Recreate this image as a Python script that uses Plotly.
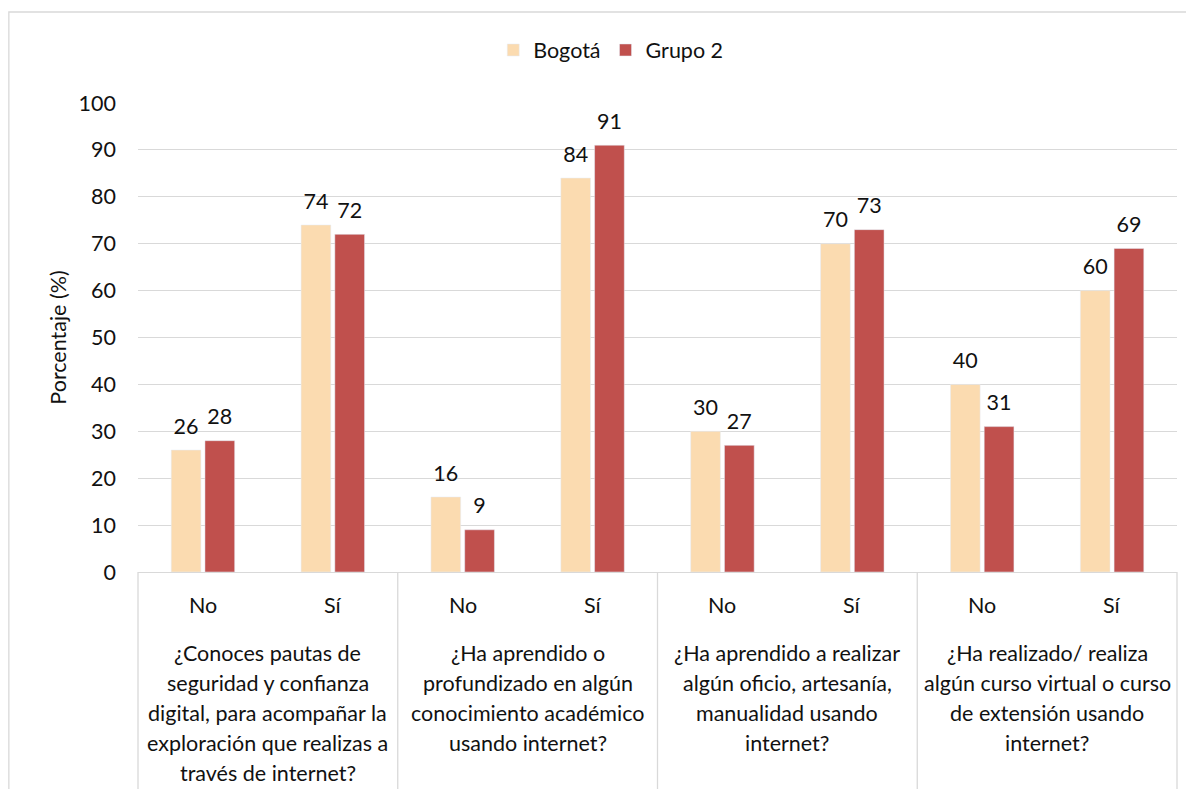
import plotly.graph_objects as go

questions = [
    ["¿Conoces pautas de", "seguridad y confianza", "digital, para acompañar la",
     "exploración que realizas a", "través de internet?"],
    ["¿Ha aprendido o", "profundizado en algún", "conocimiento académico", "usando internet?"],
    ["¿Ha aprendido a realizar", "algún oficio, artesanía,", "manualidad usando", "internet?"],
    ["¿Ha realizado/ realiza", "algún curso virtual o curso", "de extensión usando", "internet?"],
]
answers = ["No", "Sí"]
series_names = ["Bogotá", "Grupo 2"]
bogota = [26, 74, 16, 84, 30, 70, 40, 60]
grupo2 = [28, 72, 9, 91, 27, 73, 31, 69]
y_ticks = [0, 10, 20, 30, 40, 50, 60, 70, 80, 90, 100]
colors = ["#FBDBB0", "#C0504D"]

FONT = "Lato"
FS = 21.5
TXT = "#111111"
GRID = "#d9d9d9"

q_keys = [" ".join(q) for q in questions]
lvl1 = [k for k in q_keys for _ in answers]
lvl2 = [a for _ in q_keys for a in answers]

fig = go.Figure()
for name, vals, col in zip(series_names, [bogota, grupo2], colors):
    fig.add_trace(go.Bar(name=name, x=[lvl1, lvl2], y=vals, marker_color=col,
                         offsetgroup=name, hoverinfo="y"))
# data labels, aligned with bars via grouped scatter
for name, vals in zip(series_names, [bogota, grupo2]):
    fig.add_trace(go.Scatter(x=[lvl1, lvl2], y=vals, mode="markers+text", text=[str(v) for v in vals],
                             textposition="top center", textfont=dict(size=FS, color=TXT, family=FONT),
                             marker=dict(size=16, color="rgba(0,0,0,0)"), offsetgroup=name,
                             showlegend=False, hoverinfo="skip", cliponaxis=False))

annotations = []
n_q = len(questions)
for i, q in enumerate(questions):
    for j, a in enumerate(answers):
        annotations.append(dict(xref="paper", yref="paper", x=(2 * i + j + 0.5) / (2 * n_q), y=0,
                                yanchor="middle", xanchor="center", yshift=-33, text=a,
                                showarrow=False, font=dict(size=FS, color=TXT, family=FONT)))
    for k, line in enumerate(q):
        annotations.append(dict(xref="paper", yref="paper", x=(i + 0.5) / n_q, y=0,
                                yanchor="middle", xanchor="center", yshift=-(81 + 30 * k), text=line,
                                showarrow=False, font=dict(size=FS, color=TXT, family=FONT)))

shapes = [dict(type="rect", xref="paper", yref="paper", x0=-0.1243, x1=1.03, y0=-0.49, y1=1.194,
               line=dict(color=GRID, width=1.3), fillcolor="rgba(0,0,0,0)", layer="below")]
for i in range(n_q + 1):
    shapes.append(dict(type="line", xref="paper", yref="paper", x0=i / n_q, x1=i / n_q, y0=0, y1=-0.47,
                       line=dict(color=GRID, width=1.3)))

fig.update_layout(
    width=1186, height=781,
    paper_bgcolor="white", plot_bgcolor="white",
    font=dict(family=FONT, size=FS, color=TXT),
    barmode="group", bargap=0.48, bargroupgap=0.12,
    scattermode="group", scattergap=0.48,
    margin=dict(l=130, r=17, t=95, b=217, autoexpand=False),
    legend=dict(orientation="h", x=0.455, xanchor="center", y=1.113, yanchor="middle",
                font=dict(size=FS, color=TXT, family=FONT), traceorder="normal"),
    yaxis=dict(range=[0, 100], tickvals=y_ticks, showgrid=True, gridcolor=GRID, gridwidth=1.3,
               zeroline=False, showline=False, ticks="", ticklabelstandoff=21, automargin=False,
               title=dict(text="Porcentaje (%)", font=dict(size=FS, color=TXT), standoff=6)),
    xaxis=dict(type="multicategory", showline=True, linecolor=GRID, linewidth=1.3,
               showticklabels=False, showdividers=False, ticks="", automargin=False),
    shapes=shapes,
    annotations=annotations,
)

fig.write_html("out.html")
